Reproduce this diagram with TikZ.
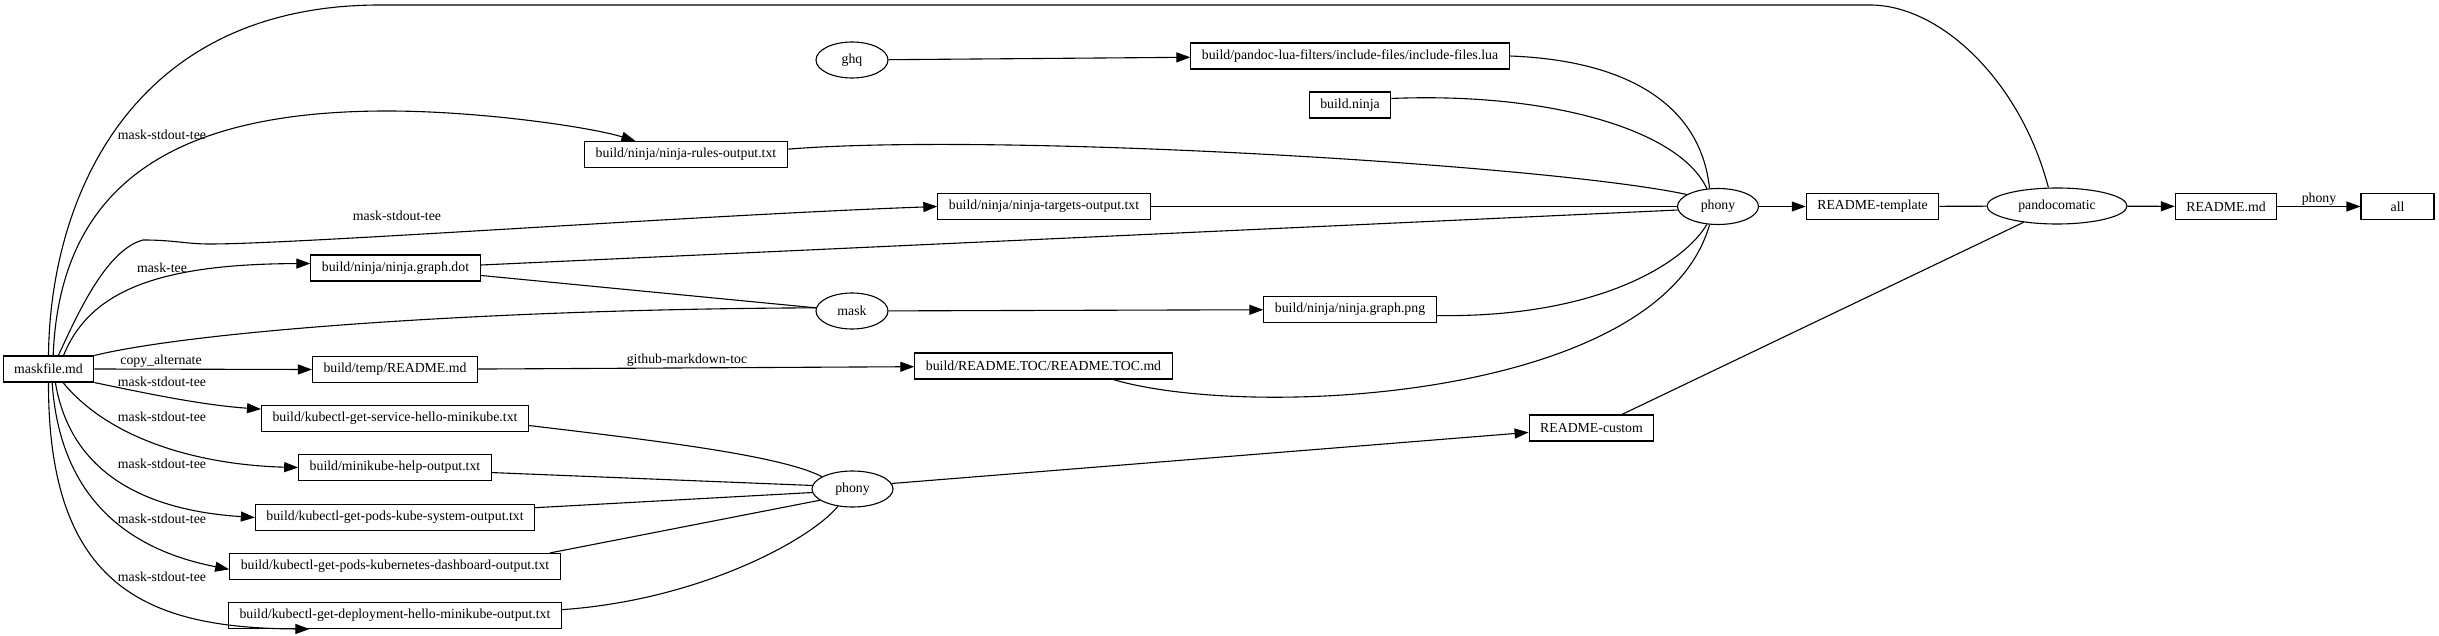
\documentclass[tikz,border=0pt]{standalone}
\usepackage{fontspec}
\setmainfont{Liberation Serif}
\usetikzlibrary{arrows.meta,shapes.geometric}

\begin{document}
\begin{tikzpicture}[x=1pt,y=-1pt,line width=1.1pt,font=\fontsize{13.8}{16}\selectfont,
		file/.style={draw,rectangle,minimum height=26pt,inner xsep=11pt,inner ysep=0pt},
		rule/.style={draw,ellipse,minimum height=36pt,minimum width=72pt,inner sep=0pt},
		lbl/.style={inner sep=0pt},
		arr/.style={-{Triangle[length=14pt,width=10pt]}}]
			\useasboundingbox (0,0) rectangle (2439,636);
			\node[file] (mf) at (48.5,369) {maskfile.md};
			\node[file] (lua) at (1350,56) {build/pandoc-lua-filters/include-files/include-files.lua};
			\node[file] (bn) at (1350,105) {build.ninja};
			\node[file] (rules) at (686,154.5) {build/ninja/ninja-rules-output.txt};
			\node[file] (targets) at (1044,206.5) {build/ninja/ninja-targets-output.txt};
			\node[file] (gdot) at (395.5,268) {build/ninja/ninja.graph.dot};
			\node[file] (gpng) at (1350,309.5) {build/ninja/ninja.graph.png};
			\node[file] (tmprd) at (395,369.5) {build/temp/README.md};
			\node[file] (toc) at (1043.5,366) {build/README.TOC/README.TOC.md};
			\node[file] (svc) at (395,418.5) {build/kubectl-get-service-hello-minikube.txt};
			\node[file] (help) at (395,467.5) {build/minikube-help-output.txt};
			\node[file] (kube) at (395,517.5) {build/kubectl-get-pods-kube-system-output.txt};
			\node[file] (dash) at (395,566.5) {build/kubectl-get-pods-kubernetes-dashboard-output.txt};
			\node[file] (deploy) at (395,615.5) {build/kubectl-get-deployment-hello-minikube-output.txt};
			\node[file] (tpl) at (1872.5,206.5) {README-template};
			\node[file] (custom) at (1591.5,428) {README-custom};
			\node[file] (rdme) at (2226,206.5) {README.md};
			\node[file,minimum width=73pt] (all) at (2397.5,206.5) {all};
			\node[rule] (ghq) at (852,60) {ghq};
			\node[rule] (mask) at (852,311) {mask};
			\node[rule,minimum width=81pt] (ph1) at (1718,206.5) {phony};
			\node[rule,minimum width=81pt] (ph2) at (852.5,489) {phony};
			\node[rule,minimum width=140pt] (pando) at (2057,206) {pandocomatic};
			\node[lbl] (l1) at (162,135) {mask-stdout-tee};
			\node[lbl] (l2) at (397,216) {mask-stdout-tee};
			\node[lbl] (l3) at (162,268) {mask-tee};
			\node[lbl] (l4) at (161,361) {copy\_alternate};
			\node[lbl] (l5) at (162,382) {mask-stdout-tee};
			\node[lbl] (l6) at (162,417) {mask-stdout-tee};
			\node[lbl] (l7) at (162,464) {mask-stdout-tee};
			\node[lbl] (l8) at (162,519) {mask-stdout-tee};
			\node[lbl] (l9) at (162,577) {mask-stdout-tee};
			\node[lbl] (l10) at (687,360) {github-markdown-toc};
			\node[lbl] (l11) at (2319,199) {phony};
			\draw (mf.north) .. controls (50,200) and (130,5) .. (380,5) -- (1870,5) .. controls (1940,5) and (2020,80) .. (pando.115);
			\draw[arr] (mf.71) .. controls (60,180) and (180,111) .. (387,111) .. controls (480,111) and (590,127) .. (rules.165);
			\draw[arr] (mf.54) .. controls (75,320) and (105,250) .. (143,240) .. controls (175,240) and (185,244) .. (210,244) .. controls (300,244) and (700,215) .. (targets.west);
			\draw[arr] (mf.42) .. controls (90,290) and (160,264) .. (gdot.177);
			\draw (mf.north east) .. controls (200,330) and (500,309) .. (mask.175);
			\draw[arr] (mf.east) -- (tmprd.west);
			\draw[arr] (mf.south east) .. controls (140,392) and (200,405) .. (svc.176);
			\draw[arr] (mf.-43) .. controls (110,440) and (200,465) .. (help.west);
			\draw[arr] (mf.-63) .. controls (70,470) and (140,510) .. (kube.west);
			\draw[arr] (mf.-75) .. controls (60,500) and (130,550) .. (dash.181);
			\draw[arr] (mf.south) .. controls (48,590) and (150,628) .. (deploy.189);
			\draw[arr] (ghq) -- (lua);
			\draw[arr] (mask) -- (gpng);
			\draw[arr] (tmprd) -- (toc);
			\draw (gdot.-5) -- (mask.175);
			\draw (gdot.2) -- (ph1.185);
			\draw (targets) -- (ph1);
			\draw (rules.3) .. controls (1000,132) and (1550,165) .. (ph1.159);
			\draw (bn.9) .. controls (1550,92) and (1680,130) .. (ph1.122);
			\draw (lua.east) .. controls (1620,60) and (1700,100) .. (ph1.115);
			\draw (gpng.-4) .. controls (1600,318) and (1685,262) .. (ph1.238);
			\draw (toc.-11.6) .. controls (1250,420) and (1660,400) .. (ph1.245);
			\draw[arr] (ph1) -- (tpl);
			\draw (tpl) -- (pando);
			\draw[arr] (pando) -- (rdme);
			\draw[arr] (rdme) -- (all);
			\draw (custom.24.5) -- (pando.206);
			\draw[arr] (ph2.8) -- (custom.184.6);
			\draw (svc.-3) .. controls (650,440) and (780,455) .. (ph2.158);
			\draw (help.-3) -- (ph2.175);
			\draw (kube.4) -- (ph2.185);
			\draw (dash.5.4) -- (ph2.199);
			\draw (deploy.2) .. controls (700,600) and (810,540) .. (ph2.230);
		\end{tikzpicture}
\end{document}
